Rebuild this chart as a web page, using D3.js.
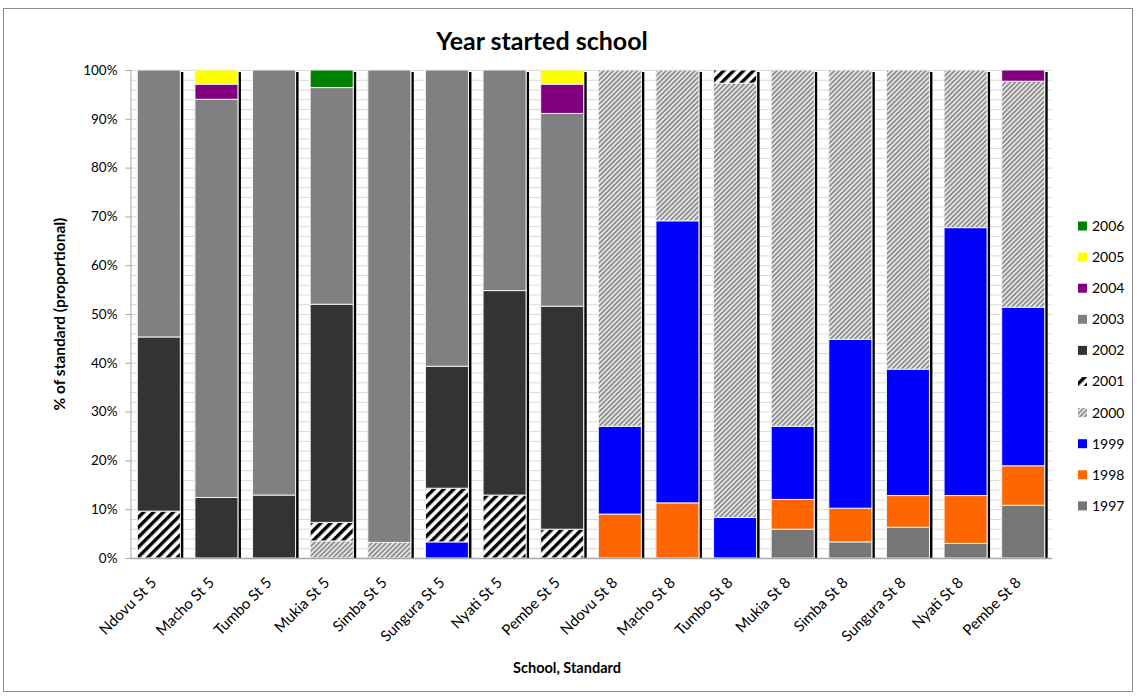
<!DOCTYPE html>
<html>
<head>
<meta charset="utf-8">
<script src="https://cdn.jsdelivr.net/npm/d3@7"></script>
<style>
  html, body { margin: 0; padding: 0; background: #fff; }
  svg { display: block; font-family: Lato, "Open Sans", sans-serif; }
</style>
</head>
<body>
<svg id="chart" width="1137" height="696"></svg>
<script>
// Schools by standard, in axis order
const categories = [
  "Ndovu St 5", "Macho St 5", "Tumbo St 5", "Mukia St 5", "Simba St 5", "Sungura St 5", "Nyati St 5", "Pembe St 5",
  "Ndovu St 8", "Macho St 8", "Tumbo St 8", "Mukia St 8", "Simba St 8", "Sungura St 8", "Nyati St 8", "Pembe St 8"
];

// Year started school, stacked bottom to top
const years = ["1997", "1998", "1999", "2000", "2001", "2002", "2003", "2004", "2005", "2006"];

// Share of each standard (%) per start year
const v1997 = [0, 0, 0, 0, 0, 0, 0, 0, 0, 0, 0, 5.9, 3.3, 6.3, 3.0, 10.8];
const v1998 = [0, 0, 0, 0, 0, 0, 0, 0, 9.0, 11.3, 0, 6.1, 6.9, 6.5, 9.8, 8.1];
const v1999 = [0, 0, 0, 0, 0, 3.3, 0, 0, 18.0, 57.8, 8.3, 15.0, 34.6, 25.9, 54.9, 32.5];
const v2000 = [0, 0, 0, 3.5, 3.2, 0, 0, 0, 73.0, 30.9, 89.0, 73.0, 55.2, 61.3, 32.3, 46.3];
const v2001 = [9.6, 0, 0, 3.8, 0, 11.0, 12.9, 5.9, 0, 0, 2.7, 0, 0, 0, 0, 0];
const v2002 = [35.7, 12.4, 12.9, 44.7, 0, 25.0, 41.9, 45.7, 0, 0, 0, 0, 0, 0, 0, 0];
const v2003 = [54.7, 81.6, 87.1, 44.4, 96.8, 60.7, 45.2, 39.5, 0, 0, 0, 0, 0, 0, 0, 0];
const v2004 = [0, 3.1, 0, 0, 0, 0, 0, 6.0, 0, 0, 0, 0, 0, 0, 0, 2.3];
const v2005 = [0, 2.9, 0, 0, 0, 0, 0, 2.9, 0, 0, 0, 0, 0, 0, 0, 0];
const v2006 = [0, 0, 0, 3.6, 0, 0, 0, 0, 0, 0, 0, 0, 0, 0, 0, 0];

// Y axis tick labels (percent)
const yTicks = [0, 10, 20, 30, 40, 50, 60, 70, 80, 90, 100];

const seriesValues = { "1997": v1997, "1998": v1998, "1999": v1999, "2000": v2000, "2001": v2001,
  "2002": v2002, "2003": v2003, "2004": v2004, "2005": v2005, "2006": v2006 };

const rows = categories.map((c, i) => {
  const r = { category: c };
  years.forEach(y => { r[y] = seriesValues[y][i]; });
  return r;
});

const svg = d3.select("#chart");
const defs = svg.append("defs");

// Fine grey hatch for 2000
const p2000 = defs.append("pattern").attr("id", "hatch2000")
  .attr("patternUnits", "userSpaceOnUse").attr("width", 3.4).attr("height", 3.4)
  .attr("patternTransform", "rotate(45)");
p2000.append("rect").attr("width", 3.4).attr("height", 3.4).attr("fill", "#e4e4e4");
p2000.append("rect").attr("width", 1.7).attr("height", 3.4).attr("fill", "#8e8e8e");

// Bold black hatch for 2001
const p2001 = defs.append("pattern").attr("id", "hatch2001")
  .attr("patternUnits", "userSpaceOnUse").attr("width", 7).attr("height", 7)
  .attr("patternTransform", "rotate(45)");
p2001.append("rect").attr("width", 7).attr("height", 7).attr("fill", "#ffffff");
p2001.append("rect").attr("width", 3.4).attr("height", 7).attr("fill", "#000000");

const fills = {
  "1997": "#767676", "1998": "#ff6600", "1999": "#0000ff", "2000": "url(#hatch2000)",
  "2001": "url(#hatch2001)", "2002": "#333333", "2003": "#808080", "2004": "#800080",
  "2005": "#ffff00", "2006": "#008000"
};

// Chart frame
svg.append("rect").attr("x", 3.5).attr("y", 8.5).attr("width", 1129).attr("height", 683)
  .attr("fill", "#fff").attr("stroke", "#8c8c8c").attr("stroke-width", 1);

const plot = { left: 130, right: 1052, top: 70, bottom: 558 };

const x = d3.scaleBand().domain(categories).range([plot.left, plot.right])
  .paddingInner(0.254).paddingOuter(0.127);
const y = d3.scaleLinear().domain([0, 100]).range([plot.bottom, plot.top]);

// Gridlines every 2%
const minor = d3.range(2, 101, 2);
svg.append("g").selectAll("line").data(minor).join("line")
  .attr("x1", plot.left).attr("x2", plot.right)
  .attr("y1", d => y(d) + 0.5).attr("y2", d => y(d) + 0.5)
  .attr("stroke", "#d9d9d9").attr("stroke-width", 1);

// Y axis
const yAxis = svg.append("g").attr("transform", `translate(${plot.left + 0.5},0)`)
  .call(d3.axisLeft(y).tickValues(yTicks).tickSize(5).tickFormat(d => d + "%").tickPadding(8));
yAxis.select(".domain").attr("stroke", "#a6a6a6");
yAxis.selectAll(".tick line").attr("stroke", "#a6a6a6");
yAxis.selectAll(".tick text").attr("font-size", 13.5).attr("fill", "#000")
  .attr("font-family", "Lato, sans-serif");

// Stacked bars
const stack = d3.stack().keys(years);
const layers = stack(rows);

// Dark edge at the right of each bar
svg.append("g").selectAll("rect").data(categories).join("rect")
  .attr("x", d => x(d) + x.bandwidth() + 0.5)
  .attr("y", y(100) + 2)
  .attr("width", 2.5)
  .attr("height", y(0) - y(100) - 2)
  .attr("fill", "#000");

svg.append("g").selectAll("g").data(layers).join("g")
  .attr("fill", d => fills[d.key])
  .selectAll("rect").data(d => d.filter(s => s[1] - s[0] > 0)).join("rect")
  .attr("x", d => x(d.data.category))
  .attr("y", d => y(d[1]))
  .attr("width", x.bandwidth())
  .attr("height", d => y(d[0]) - y(d[1]))
  .attr("stroke", "#f0f0f0").attr("stroke-width", 1);

// X axis baseline
svg.append("line").attr("x1", plot.left).attr("x2", plot.right)
  .attr("y1", plot.bottom + 0.5).attr("y2", plot.bottom + 0.5)
  .attr("stroke", "#a6a6a6").attr("stroke-width", 1.5);

// Category labels, rotated
svg.append("g").selectAll("text").data(categories).join("text")
  .attr("transform", d => `translate(${x(d) + x.bandwidth() / 2 - 5},${plot.bottom + 22}) rotate(-45)`)
  .attr("text-anchor", "end")
  .attr("dy", "0.35em")
  .attr("font-size", 15)
  .text(d => d);

// Titles
svg.append("text").attr("x", 542).attr("y", 50).attr("text-anchor", "middle")
  .attr("font-size", 25).attr("font-weight", "bold").text("Year started school");

svg.append("text").attr("x", 567).attr("y", 673).attr("text-anchor", "middle")
  .attr("font-size", 14.5).attr("font-weight", "bold").text("School, Standard");

svg.append("text").attr("transform", "translate(65,314) rotate(-90)").attr("text-anchor", "middle")
  .attr("font-size", 15.5).attr("font-weight", "bold").text("% of standard (proportional)");

// Legend, newest year on top
const legendYears = years.slice().reverse();
const legend = svg.append("g").selectAll("g").data(legendYears).join("g")
  .attr("transform", (d, i) => `translate(1078,${226 + i * 31.1})`);
legend.append("rect").attr("x", 0).attr("y", -4.5).attr("width", 9).attr("height", 9)
  .attr("fill", d => fills[d]);
legend.append("text").attr("x", 14).attr("y", 0).attr("dy", "0.35em")
  .attr("font-size", 14).text(d => d);
</script>
</body>
</html>
